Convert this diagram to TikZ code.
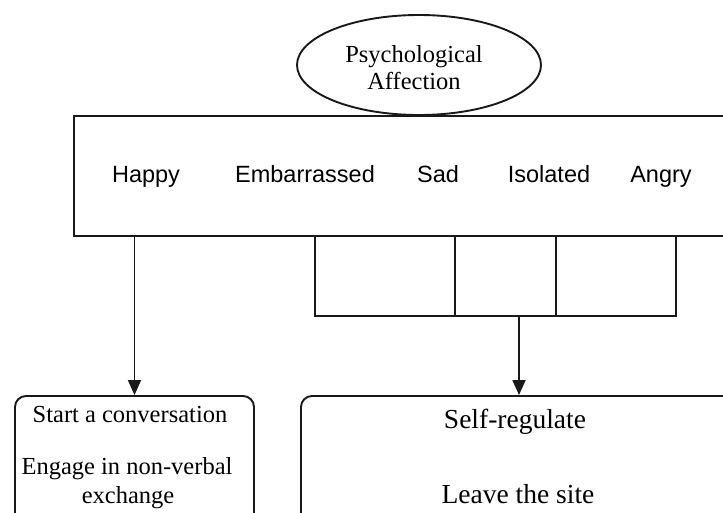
\documentclass[tikz,border=0pt]{standalone}
\usepackage{fontspec}
\setmainfont{Liberation Serif}
\newfontfamily\labelfont{Liberation Sans}
\usetikzlibrary{arrows.meta,shapes.geometric}
\begin{document}
\begin{tikzpicture}[x=1pt,y=-1pt,line width=1.9pt,
  frame/.style={draw=black!90,inner sep=0pt},
  link/.style={draw=black!90,line width=1.8pt},
  tip/.style={-{Triangle[width=13pt,length=15pt]}},
  emotion/.style={font=\labelfont\fontsize{23.5}{28}\selectfont,anchor=base,inner sep=0pt},
  bodytext/.style={font=\fontsize{24.5}{30}\selectfont,anchor=base,inner sep=0pt},
  bigtext/.style={font=\fontsize{27.5}{33}\selectfont,anchor=base,inner sep=0pt}]
\useasboundingbox (0,0) rectangle (723,512);
\clip (0,0) rectangle (723,512);

% top: the affection ellipse
\node[frame,ellipse,minimum width=244pt,minimum height=100pt] (pa) at (419,65) {};
\node[bodytext] (pa1) at (414,62) {Psychological};
\node[bodytext] (pa2) at (414,89) {Affection};

% band of emotions
\node[frame,rectangle,minimum width=686pt,minimum height=120pt] (emo) at (417,176) {};
\node[emotion] (happy) at (146,182) {Happy};
\node[emotion] (emb)   at (305,182) {Embarrassed};
\node[emotion] (sad)   at (438,182) {Sad};
\node[emotion] (iso)   at (549,182) {Isolated};
\node[emotion] (angry) at (661,182) {Angry};

% responses
\node[frame,rectangle,rounded corners=11pt,minimum width=239pt,minimum height=164pt] (lbox) at (134.5,478) {};
\node[frame,rectangle,rounded corners=11pt,minimum width=436pt,minimum height=164pt] (rbox) at (519,478) {};
\node[bodytext] (t1) at (130,422) {Start a conversation};
\node[bodytext] (t2) at (127,474) {Engage in non-verbal};
\node[bodytext] (t3) at (128,503) {exchange};
\node[bigtext] (t4) at (515,428) {Self-regulate};
\node[bigtext] (t5) at (518,503) {Leave the site};

% connectors
\draw[link,tip] (emo.south -| lbox.north) -- (lbox.north);

\coordinate (b1) at (315,316);
\coordinate (b2) at (455,316);
\coordinate (b3) at (556,316);
\coordinate (b4) at (676,316);
\coordinate (merge) at (rbox.north |- b1);
\draw[link] (emo.south -| b1) -- (b1) -- (b4) -- (emo.south -| b4);
\draw[link] (emo.south -| b2) -- (b2);
\draw[link] (emo.south -| b3) -- (b3);
\draw[link,tip] (merge) -- (rbox.north);
\end{tikzpicture}
\end{document}
